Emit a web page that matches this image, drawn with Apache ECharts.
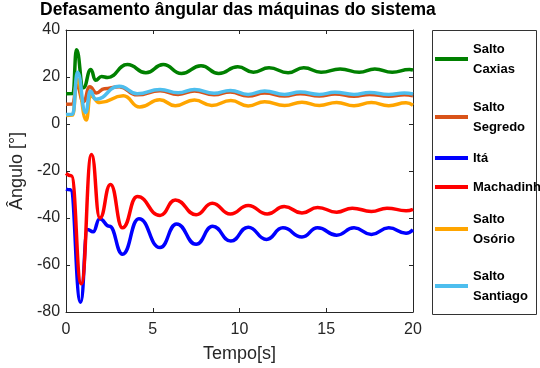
<!DOCTYPE html>
<html>
<head>
<meta charset="utf-8">
<script src="https://cdn.jsdelivr.net/npm/echarts@6/dist/echarts.min.js"></script>
<style>
  html, body { margin: 0; padding: 0; background: #fff; }
  #chart { width: 540px; height: 368px; }
</style>
</head>
<body>
<div id="chart"></div>
<script>
// series names (legend order)
var names = ['Salto\nCaxias', 'Salto\nSegredo', 'Itá', 'Machadinh', 'Salto\nOsório', 'Salto\nSantiago'];
var colors = ['#008000', '#D95319', '#0000FF', '#FF0000', '#FFA500', '#4DBEEE'];

// Salto Caxias
var caxiasT = [0, 0.4, 0.6, 1.0, 1.43, 1.7, 2.05, 2.4, 3.54, 4.6, 5.6, 6.65, 7.78, 8.8, 9.9, 10.8, 11.7, 12.8, 13.7, 14.7, 15.8, 16.9, 17.8, 18.8, 19.8, 20];
var caxiasV = [12.9, 13, 31.6, 15.4, 23.2, 18.6, 20.2, 19.8, 25.3, 21.8, 25.3, 21.5, 24.8, 21.5, 24.4, 22, 23.9, 21.8, 23.9, 22, 23.4, 22, 23.4, 22, 23.2, 23];

// Salto Segredo
var segredoT = [0, 0.38, 0.62, 1.0, 1.37, 1.75, 2.2, 3.07, 4.1, 5.42, 6.46, 7.4, 8.53, 9.47, 10.5, 11.45, 12.6, 13.5, 14.6, 15.5, 16.6, 17.5, 18.6, 19.5, 20];
var segredoV = [8.4, 8.5, 16.5, 9.5, 15.8, 13.2, 15, 15.8, 12.4, 14.2, 12.6, 14, 12.4, 13.6, 11.9, 13.2, 11.9, 12.9, 11.9, 12.8, 11.8, 12.6, 11.8, 12.4, 12];

// Itá
var itaT = [0, 0.25, 0.84, 1.24, 1.56, 1.94, 2.5, 3.26, 4.2, 5.42, 6.37, 7.5, 8.45, 9.5, 10.5, 11.55, 12.5, 13.6, 14.5, 15.6, 16.6, 17.6, 18.6, 19.6, 20];
var itaV = [-27.7, -28, -75.8, -44.9, -45.9, -40.3, -43.5, -55.4, -40.3, -52.6, -42.5, -51.2, -43.5, -49.8, -43.9, -49.1, -44.2, -48.1, -44.2, -47.3, -44.2, -47, -44.2, -46.5, -45];

// Machadinho
var machT = [0, 0.3, 0.88, 1.47, 1.95, 2.56, 3.26, 4.1, 5.42, 6.3, 7.5, 8.43, 9.47, 10.5, 11.6, 12.58, 13.6, 14.5, 15.6, 16.5, 17.6, 18.5, 19.6, 20];
var machV = [-21, -22, -68, -13, -40, -25.7, -44.2, -30.9, -38.9, -32.3, -38.6, -33.7, -38.3, -34.7, -38.3, -35.1, -37.9, -35.5, -37.5, -35.8, -37.2, -35.8, -36.9, -36.3];

// Salto Osório
var osorioT = [0, 0.38, 0.64, 1.17, 1.4, 1.94, 3.3, 4.25, 5.4, 6.3, 7.4, 8.4, 9.5, 10.5, 11.45, 12.6, 13.6, 14.6, 15.6, 16.6, 17.6, 18.6, 19.6, 20];
var osorioV = [3.6, 3.8, 19, 1.7, 12, 9.1, 12, 7.2, 10.3, 7.8, 10.2, 7.9, 10, 7.7, 9.5, 7.9, 9.3, 7.9, 9.2, 7.8, 9.1, 7.8, 9, 8];

// Salto Santiago
var santiagoT = [0, 0.38, 0.66, 1.13, 1.4, 1.71, 3.07, 4.1, 5.42, 6.46, 7.4, 8.53, 9.47, 10.5, 11.45, 12.6, 13.5, 14.6, 15.5, 16.6, 17.5, 18.6, 19.5, 20];
var santiagoV = [4, 4.2, 22, 4.9, 14, 10.5, 16.1, 12.9, 14.7, 13.3, 14.7, 13.1, 14.3, 12.6, 14, 12.6, 13.6, 12.6, 13.5, 12.6, 13.4, 12.6, 13.2, 12.8];

var xTicks = [0, 5, 10, 15, 20];
var yTicks = [-80, -60, -40, -20, 0, 20, 40];

// legend item vertical centres
var legendCenters = [59, 117, 158, 187, 229, 286];

function pairs(t, v) {
  return t.map(function (x, i) { return [x, v[i]]; });
}
var seriesT = [caxiasT, segredoT, itaT, machT, osorioT, santiagoT];
var seriesV = [caxiasV, segredoV, itaV, machV, osorioV, santiagoV];

var chart = echarts.init(document.getElementById('chart'));

var axisColor = '#262626';
var baseAxis = {
  type: 'value',
  axisLine: { show: true, onZero: false, lineStyle: { color: axisColor, width: 1 } },
  axisTick: { show: true, inside: true, length: 4, lineStyle: { color: axisColor } },
  splitLine: { show: false }
};

var legends = names.map(function (n, i) {
  var lines = n.split('\n').length;
  return {
    data: [n],
    orient: 'vertical',
    left: 435,
    top: legendCenters[i] - lines * 10,
    padding: 0,
    itemWidth: 33,
    itemHeight: 4,
    icon: 'rect',
    selectedMode: false,
    textStyle: { color: '#000', fontSize: 13, fontWeight: 'bold', lineHeight: 20, fontFamily: 'Liberation Sans' }
  };
});

chart.setOption({
  animation: false,
  backgroundColor: '#fff',
  color: colors,
  title: {
    text: 'Defasamento ângular das máquinas do sistema',
    left: 40,
    top: 1,
    padding: 0,
    textStyle: { color: '#000', fontSize: 17.5, fontWeight: 'bold', fontFamily: 'Liberation Sans' }
  },
  legend: legends,
  grid: { left: 59, right: 127, top: 30, bottom: 53 },
  xAxis: [
    Object.assign({}, baseAxis, {
      min: xTicks[0], max: xTicks[xTicks.length - 1], interval: 5,
      name: 'Tempo[s]', nameLocation: 'middle', nameGap: 33,
      nameTextStyle: { color: axisColor, fontSize: 18, fontFamily: 'Liberation Sans' },
      axisLabel: { color: axisColor, fontSize: 16, margin: 10, fontFamily: 'Liberation Sans' }
    }),
    Object.assign({}, baseAxis, {
      position: 'top', min: 0, max: 20, interval: 5,
      axisLabel: { show: false }
    })
  ],
  yAxis: [
    Object.assign({}, baseAxis, {
      min: yTicks[0], max: yTicks[yTicks.length - 1], interval: 20,
      name: 'Ângulo [°]', nameLocation: 'middle', nameGap: 27,
      nameTextStyle: { color: axisColor, fontSize: 18, fontFamily: 'Liberation Sans' },
      axisLabel: { color: axisColor, fontSize: 16, margin: 6, fontFamily: 'Liberation Sans' }
    }),
    Object.assign({}, baseAxis, {
      position: 'right', min: -80, max: 40, interval: 20,
      axisLabel: { show: false }
    })
  ],
  graphic: [{
    type: 'rect',
    shape: { x: 432.5, y: 30.5, width: 104, height: 284 },
    style: { fill: 'none', stroke: '#333', lineWidth: 1 },
    z: 0
  }],
  series: names.map(function (n, i) {
    return {
      name: n,
      type: 'line',
      xAxisIndex: 0,
      yAxisIndex: 0,
      showSymbol: false,
      smooth: 0.5,
      smoothMonotone: 'x',
      lineStyle: { width: 3.5, color: colors[i] },
      data: pairs(seriesT[i], seriesV[i])
    };
  })
});

window.addEventListener('resize', function () { chart.resize(); });
</script>
</body>
</html>
